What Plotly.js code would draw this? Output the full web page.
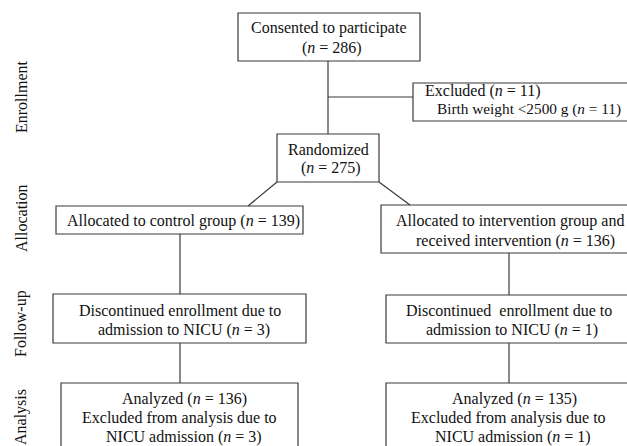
<!DOCTYPE html>
<html>
<head>
<meta charset="utf-8">
<script src="https://cdn.plot.ly/plotly-3.0.1.min.js"></script>
<style>html,body{margin:0;padding:0;background:#fff;}</style>
</head>
<body>
<div id="chart" style="width:627px;height:446px;"></div>
<script>
const stages = ["Enrollment", "Allocation", "Follow-up", "Analysis"];
const nConsented = 286;
const nExcluded = 11;
const nRandomized = 275;
const groups = ["control", "intervention"];
const nAllocated = [139, 136];
const nDiscontinued = [3, 1];
const nAnalyzed = [136, 135];

const N = v => "(<i>n</i> = " + v + ")";

// ---- layout geometry (pixel space; y grows downward) ----
const boxes = [
  [238, 13, 420, 61],
  [413, 83, 660, 121],
  [277, 134, 379, 182],
  [56, 206, 303, 234],
  [381, 205, 660, 253],
  [53, 294, 306, 343],
  [386, 295, 660, 343],
  [61, 383, 298, 470],
  [386, 383, 660, 470]
];
const lines = [
  [328, 61, 328, 134],
  [328, 97, 413, 97],
  [277, 182, 248, 206],
  [379, 182, 410, 205],
  [180, 234, 180, 294],
  [180, 343, 180, 383],
  [509, 253, 509, 295],
  [509, 343, 509, 383]
];

const lineColor = "#3a3a3a";
const shapes = [];
boxes.forEach(b => shapes.push({type: "rect", xref: "x", yref: "y", x0: b[0], y0: b[1], x1: b[2], y1: b[3],
  line: {color: lineColor, width: 1.2}, fillcolor: "rgba(0,0,0,0)"}));
lines.forEach(l => shapes.push({type: "line", xref: "x", yref: "y", x0: l[0], y0: l[1], x1: l[2], y1: l[3],
  line: {color: lineColor, width: 1.2}}));

const fam = "Liberation Serif, Times New Roman, serif";
function txt(x, y, text, anchor, size) {
  return {x: x, y: y, xref: "x", yref: "y", text: text, showarrow: false,
    xanchor: anchor || "center", yanchor: "middle",
    font: {family: fam, size: size || 16, color: "#111"}, align: anchor || "center"};
}

const annotations = [
  txt(329, 28, "Consented to participate"),
  txt(332, 48, N(nConsented)),
  txt(423, 91, "Excluded " + N(nExcluded), "left"),
  txt(435, 109, "Birth weight &lt;2500 g " + N(nExcluded), "left", 15.3),
  txt(328, 149, "Randomized"),
  txt(331, 168, N(nRandomized)),
  txt(183, 221, "Allocated to " + groups[0] + " group " + N(nAllocated[0])),
  txt(510, 221, "Allocated to " + groups[1] + " group and"),
  txt(515, 241, "received intervention " + N(nAllocated[1])),
  txt(180, 310, "Discontinued enrollment due to"),
  txt(184, 330, "admission to NICU " + N(nDiscontinued[0])),
  txt(509, 310, "Discontinued&nbsp; enrollment due to"),
  txt(512, 330, "admission to NICU " + N(nDiscontinued[1])),
  txt(184, 399, "Analyzed " + N(nAnalyzed[0])),
  txt(179, 418, "Excluded from analysis due to"),
  txt(184, 437, "NICU admission " + N(nDiscontinued[0])),
  txt(514, 399, "Analyzed " + N(nAnalyzed[1])),
  txt(508, 418, "Excluded from analysis due to"),
  txt(513, 437, "NICU admission " + N(nDiscontinued[1]))
];
const stageY = [97, 218, 324, 417];
stages.forEach((s, i) => annotations.push({x: 21, y: stageY[i], xref: "x", yref: "y", text: s, showarrow: false,
  textangle: -90, xanchor: "center", yanchor: "middle",
  font: {family: fam, size: 16, color: "#111"}}));

const layout = {
  width: 627, height: 446,
  margin: {l: 0, r: 0, t: 0, b: 0},
  paper_bgcolor: "#fff", plot_bgcolor: "#fff",
  showlegend: false,
  xaxis: {range: [0, 627], visible: false, fixedrange: true},
  yaxis: {range: [446, 0], visible: false, fixedrange: true},
  shapes: shapes,
  annotations: annotations
};

Plotly.newPlot("chart", [{x: [], y: [], type: "scatter", mode: "markers", hoverinfo: "skip"}], layout,
  {staticPlot: true, displayModeBar: false});
</script>
</body>
</html>
